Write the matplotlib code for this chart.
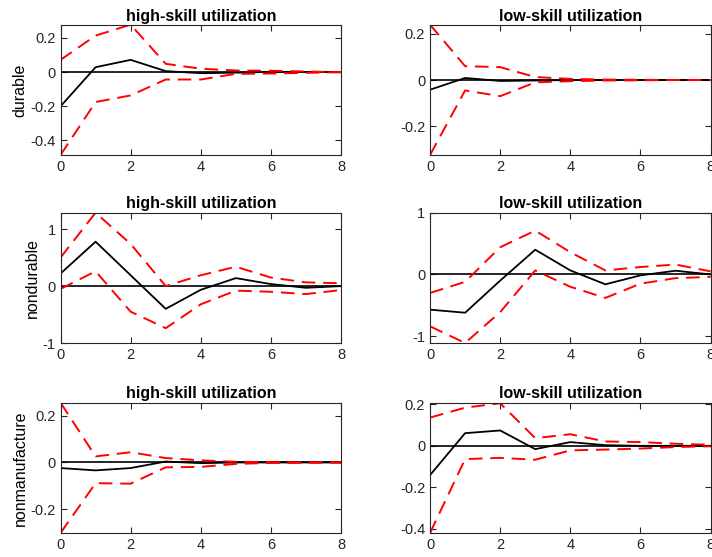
import matplotlib
matplotlib.use('Agg')
import matplotlib.pyplot as plt
import numpy as np

plt.rcParams.update({
    'font.family': ['Liberation Sans', 'DejaVu Sans'],
    'axes.edgecolor': '#262626',
    'xtick.color': '#262626',
    'ytick.color': '#262626',
    'xtick.direction': 'in',
    'ytick.direction': 'in',
    'xtick.top': True,
    'ytick.right': True,
})

horizon = np.arange(9)

# durable, high-skill
dur_hi_mid = [-0.20, 0.029, 0.072, 0.006, -0.006, -0.003, 0.002, 0.001, 0.0]
dur_hi_up = [0.072, 0.214, 0.278, 0.049, 0.02, 0.01, 0.008, 0.004, 0.0]
dur_hi_lo = [-0.485, -0.175, -0.136, -0.043, -0.043, -0.01, -0.008, -0.004, 0.0]
# durable, low-skill
dur_lo_mid = [-0.042, 0.009, -0.004, -0.002, 0.0, 0.0, 0.0, 0.0, 0.0]
dur_lo_up = [0.24, 0.06, 0.056, 0.013, 0.005, 0.002, 0.001, 0.0, 0.0]
dur_lo_lo = [-0.325, -0.045, -0.07, -0.01, -0.005, -0.002, -0.001, 0.0, 0.0]
# nondurable, high-skill
nd_hi_mid = [0.22, 0.78, 0.19, -0.40, -0.065, 0.14, 0.035, -0.03, 0.0]
nd_hi_up = [0.50, 1.29, 0.74, 0.0, 0.19, 0.34, 0.15, 0.065, 0.05]
nd_hi_lo = [-0.05, 0.26, -0.45, -0.74, -0.32, -0.08, -0.10, -0.14, -0.07]
# nondurable, low-skill
nd_lo_mid = [-0.57, -0.62, -0.10, 0.40, 0.065, -0.16, -0.015, 0.06, 0.0]
nd_lo_up = [-0.30, -0.12, 0.44, 0.71, 0.36, 0.065, 0.12, 0.16, 0.05]
nd_lo_lo = [-0.84, -1.11, -0.61, 0.065, -0.20, -0.38, -0.15, -0.06, -0.04]
# nonmanufacture, high-skill
nm_hi_mid = [-0.024, -0.034, -0.024, 0.004, -0.003, 0.0, 0.0, 0.0, 0.0]
nm_hi_up = [0.257, 0.026, 0.044, 0.019, 0.009, 0.003, 0.001, 0.0, 0.0]
nm_hi_lo = [-0.303, -0.089, -0.091, -0.021, -0.019, -0.006, -0.002, -0.001, 0.0]
# nonmanufacture, low-skill
nm_lo_mid = [-0.141, 0.061, 0.074, -0.016, 0.018, 0.003, 0.0, 0.0, 0.0]
nm_lo_up = [0.136, 0.184, 0.205, 0.037, 0.056, 0.021, 0.018, 0.01, 0.005]
nm_lo_lo = [-0.42, -0.064, -0.058, -0.067, -0.022, -0.018, -0.013, -0.006, -0.002]

titles = ['high-skill utilization', 'low-skill utilization']
row_labels = ['durable', 'nondurable', 'nonmanufacture']

panels = [
    [(dur_hi_mid, dur_hi_up, dur_hi_lo, (-0.485, 0.278), [-0.4, -0.2, 0, 0.2], ['-0.4', '-0.2', '0', '0.2']),
     (dur_lo_mid, dur_lo_up, dur_lo_lo, (-0.325, 0.24), [-0.2, 0, 0.2], ['-0.2', '0', '0.2'])],
    [(nd_hi_mid, nd_hi_up, nd_hi_lo, (-1.0, 1.29), [-1, 0, 1], ['-1', '0', '1']),
     (nd_lo_mid, nd_lo_up, nd_lo_lo, (-1.11, 1.0), [-1, 0, 1], ['-1', '0', '1'])],
    [(nm_hi_mid, nm_hi_up, nm_hi_lo, (-0.303, 0.257), [-0.2, 0, 0.2], ['-0.2', '0', '0.2']),
     (nm_lo_mid, nm_lo_up, nm_lo_lo, (-0.42, 0.208), [-0.4, -0.2, 0, 0.2], ['-0.4', '-0.2', '0', '0.2'])],
]

fig = plt.figure(figsize=(7.12, 5.57), dpi=100)
lefts = [0.085, 0.604]
width = 0.394
bottoms = [0.7217, 0.3842, 0.0431]
height = 0.234

for r in range(3):
    for c in range(2):
        mid, up, lo, ylim, yt, ytl = panels[r][c]
        ax = fig.add_axes([lefts[c], bottoms[r], width, height])
        ax.axhline(0, color='black', linewidth=1.2)
        ax.plot(horizon, mid, color='black', linewidth=1.3)
        ax.plot(horizon, up, color='red', linewidth=1.4, dashes=(7, 4))
        ax.plot(horizon, lo, color='red', linewidth=1.4, dashes=(7, 4))
        ax.set_xlim(0, 8)
        ax.set_ylim(*ylim)
        ax.set_xticks([0, 2, 4, 6, 8])
        ax.set_yticks(yt)
        ax.set_yticklabels(ytl)
        ax.tick_params(labelsize=10.5, length=4, width=0.8)
        for s in ax.spines.values():
            s.set_linewidth(0.8)
        ax.set_title(titles[c], fontsize=11.5, fontweight='bold', pad=3)
        if c == 0:
            ax.set_ylabel(row_labels[r], fontsize=11.5, labelpad=2)

fig.savefig('out.png', dpi=100)
